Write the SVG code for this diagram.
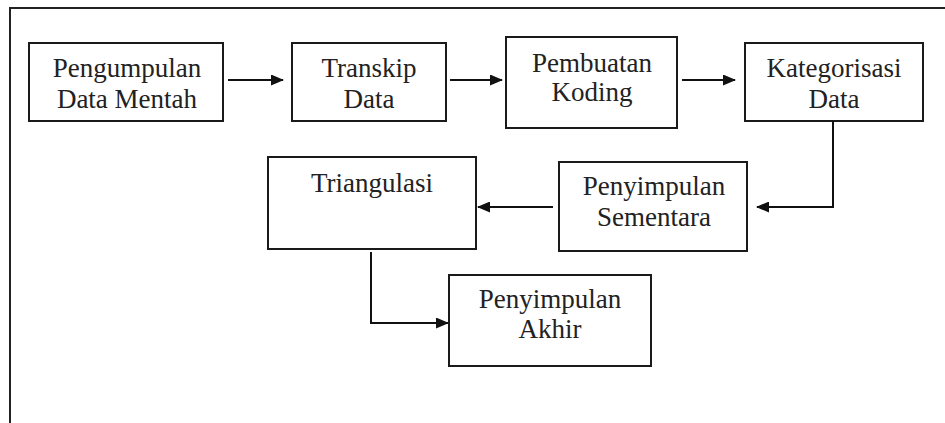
<svg xmlns="http://www.w3.org/2000/svg" width="945" height="423" viewBox="0 0 945 423">
<style>
.box{fill:#fff;stroke:#1a1a1a;stroke-width:2}
.t{font-family:"Liberation Serif","Times New Roman",serif;font-size:27px;fill:#222;text-anchor:middle}
.c{fill:none;stroke:#111;stroke-width:2}
</style>
<defs>
<marker id="ah" markerWidth="13" markerHeight="11" refX="12" refY="5.5" orient="auto" markerUnits="userSpaceOnUse">
<path d="M0,0 L13,5.5 L0,11 Z" fill="#111"/>
</marker>
</defs>
<rect width="945" height="423" fill="#fff"/>
<g id="frame"><path d="M945,8 L10,8 L10,423" fill="none" stroke="#222" stroke-width="2"/></g>
<g id="n1"><rect class="box" x="29" y="43" width="194" height="78"/><text class="t" x="127" y="77">Pengumpulan</text><text class="t" x="127" y="108">Data Mentah</text></g>
<g id="n2"><rect class="box" x="292" y="43" width="154" height="78"/><text class="t" x="369" y="77">Transkip</text><text class="t" x="369" y="108">Data</text></g>
<g id="n3"><rect class="box" x="506" y="37" width="171" height="91"/><text class="t" x="592" y="72">Pembuatan</text><text class="t" x="592" y="101">Koding</text></g>
<g id="n4"><rect class="box" x="745" y="43" width="178" height="78"/><text class="t" x="834" y="77">Kategorisasi</text><text class="t" x="834" y="108">Data</text></g>
<g id="n5"><rect class="box" x="268" y="157" width="208" height="92"/><text class="t" x="372" y="192">Triangulasi</text></g>
<g id="n6"><rect class="box" x="559" y="162" width="188" height="89"/><text class="t" x="654" y="195">Penyimpulan</text><text class="t" x="654" y="226">Sementara</text></g>
<g id="n7"><rect class="box" x="449" y="275" width="202" height="91"/><text class="t" x="550" y="308">Penyimpulan</text><text class="t" x="550" y="338">Akhir</text></g>
<g id="connectors">
<path class="c" d="M228,80 L283,80" marker-end="url(#ah)"/>
<path class="c" d="M450,80 L502,80" marker-end="url(#ah)"/>
<path class="c" d="M682,80 L735,80" marker-end="url(#ah)"/>
<path class="c" d="M833,121 L833,207 L757,207" marker-end="url(#ah)"/>
<path class="c" d="M553,207 L478,207" marker-end="url(#ah)"/>
<path class="c" d="M371,252 L371,323 L448,323" marker-end="url(#ah)"/>
</g>
</svg>
